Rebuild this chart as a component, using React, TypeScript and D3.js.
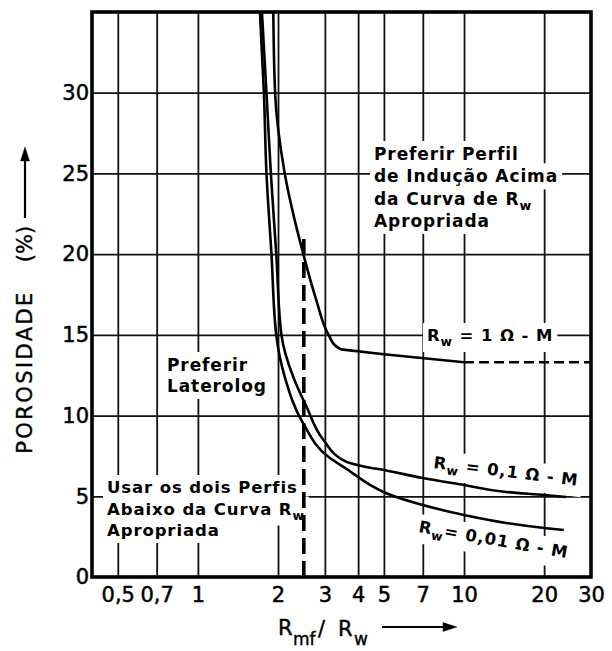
import React, { useEffect, useRef } from 'react'
import * as d3 from 'd3'

const W = 612
const H = 651

// axis ticks
const xTickValues = [0.5, 0.7, 1, 2, 3, 4, 5, 7, 10, 20, 30]
const xTickLabels = ['0,5', '0,7', '1', '2', '3', '4', '5', '7', '10', '20', '30']
const xGridValues = [0.5, 0.7, 1, 2, 3, 4, 5, 7, 10, 20]
const yTickValues = [0, 5, 10, 15, 20, 25, 30]
const yGridValues = [5, 10, 15, 20, 25, 30]

// curves, [Rmf/Rw, porosidade %]
const rw001: [number, number][] = [
  [1.71, 35], [1.77, 30], [1.81, 25], [1.89, 20], [1.97, 15], [2.12, 12.4],
  [2.49, 9.5], [3.09, 7.45], [3.6, 6.72], [4.5, 5.65], [5, 5.25], [7, 4.46],
  [10, 3.84], [14.4, 3.35], [20, 3.04], [23.7, 2.91],
]
const rw01: [number, number][] = [
  [1.74, 35], [1.81, 30], [1.88, 25], [1.97, 20], [2.06, 15], [2.28, 12.4],
  [2.56, 10.55], [2.96, 8.5], [3.6, 7.15], [4.2, 6.85], [5.1, 6.6], [7, 6.13],
  [10, 5.7], [14.4, 5.27], [20, 5.08], [24.2, 4.96],
]
const rw1Steep: [number, number][] = [
  [1.92, 35], [1.95, 30], [2.12, 25], [2.49, 20], [2.78, 17.2], [3.12, 14.9], [3.3, 14.3], [3.45, 14.1],
]
const rw1Flat: [number, number][] = [[3.45, 14.1], [5, 13.8], [10, 13.3]]
const rw1Dashed: [number, number][] = [[10, 13.3], [30, 13.3]]
const cutoffLine: [number, number][] = [[2.5, 0], [2.5, 21.2]]

type Seg = { t: string, sub?: boolean }

export default function App() {
  const ref = useRef<SVGSVGElement>(null)

  useEffect(() => {
    const svg = d3.select(ref.current)
    svg.selectAll('*').remove()

    const x = d3.scaleLog().domain([0.4, 30]).range([92, 591])
    const y = d3.scaleLinear().domain([0, 35]).range([577, 12])
    const top = y(35)
    const bottom = y(0)
    const font = 'DejaVu Sans, sans-serif'

    svg.append('rect').attr('width', W).attr('height', H).attr('fill', 'white')

    // grid
    svg.append('g')
      .attr('transform', `translate(0, ${bottom})`)
      .call(d3.axisBottom(x).tickValues(xGridValues).tickSize(-(bottom - top)).tickFormat(() => ''))
      .call(g => g.select('.domain').remove())
      .selectAll('line').attr('stroke', '#111').attr('stroke-width', 1.8)
    svg.append('g')
      .attr('transform', `translate(${x(0.4)}, 0)`)
      .call(d3.axisLeft(y).tickValues(yGridValues).tickSize(-(x(30) - x(0.4))).tickFormat(() => ''))
      .call(g => g.select('.domain').remove())
      .selectAll('line').attr('stroke', '#111').attr('stroke-width', 1.8)

    const bg = svg.append('g')
    const curves = svg.append('g').attr('fill', 'none').attr('stroke', '#000')
    const txt = svg.append('g').attr('fill', '#000')
      .attr('font-family', font).attr('font-weight', 'bold')

    // tick labels
    const xAxis = svg.append('g')
      .attr('transform', `translate(0, ${bottom})`)
      .call(d3.axisBottom(x).tickValues(xTickValues).tickSize(0).tickPadding(10)
        .tickFormat((d, i) => xTickLabels[i]))
    xAxis.select('.domain').remove()
    xAxis.selectAll('text').attr('font-size', 21).attr('font-family', font)
      .attr('fill', '#000').attr('stroke', '#000').attr('stroke-width', 0.5)

    const yAxis = svg.append('g')
      .attr('transform', `translate(${x(0.4)}, 0)`)
      .call(d3.axisLeft(y).tickValues(yTickValues).tickSize(0).tickPadding(3))
    yAxis.select('.domain').remove()
    yAxis.selectAll('text').attr('font-size', 21).attr('font-family', font)
      .attr('fill', '#000').attr('stroke', '#000').attr('stroke-width', 0.5)

    // curves (interpolated along porosity, which falls steadily on every curve)
    const smooth = d3.line<[number, number]>().x(d => x(d[0])).y(d => y(d[1]))
      .curve(d3.curveMonotoneY)
    const bySmooth = (pts: [number, number][]) => smooth(pts.slice().reverse())
    const straight = d3.line<[number, number]>().x(d => x(d[0])).y(d => y(d[1]))

    curves.append('path').attr('d', bySmooth(rw001)).attr('stroke-width', 2.6)
    curves.append('path').attr('d', bySmooth(rw01)).attr('stroke-width', 2.6)
    curves.append('path').attr('d', bySmooth(rw1Steep)).attr('stroke-width', 2.6)
    curves.append('path').attr('d', bySmooth(rw1Flat)).attr('stroke-width', 2.6)
    curves.append('path').attr('d', straight(rw1Dashed)).attr('stroke-width', 2.6)
      .attr('stroke-dasharray', '10,5')
    curves.append('path').attr('d', straight(cutoffLine)).attr('stroke-width', 3.6)
      .attr('stroke-dasharray', '16,7')

    // labels with white patches behind them
    const addLabel = (x0: number, y0: number, lines: Seg[][], size: number, lh: number, rot = 0) => {
      const tr = `translate(${x0}, ${y0}) rotate(${rot})`
      const gb = bg.append('g').attr('transform', tr)
      const gt = txt.append('g').attr('transform', tr)
      lines.forEach((segs, i) => {
        const t = gt.append('text').attr('x', 0).attr('y', i * lh)
          .attr('font-size', size).attr('letter-spacing', 0.9)
        let shift = 0
        segs.forEach(s => {
          const ts = t.append('tspan').text(s.t)
          const want = s.sub ? 5 : 0
          if (want !== shift) ts.attr('dy', want - shift)
          shift = want
          if (s.sub) ts.attr('font-size', size * 0.75)
        })
        const b = (t.node() as SVGTextElement).getBBox()
        gb.append('rect')
          .attr('x', b.x - 4).attr('y', b.y - 3)
          .attr('width', b.width + 8).attr('height', b.height + 6)
          .attr('fill', 'white')
      })
    }

    addLabel(374, 160, [
      [{ t: 'Preferir Perfil' }],
      [{ t: 'de Indução Acima' }],
      [{ t: 'da Curva de R' }, { t: 'w', sub: true }],
      [{ t: 'Apropriada' }],
    ], 17, 22.3)
    addLabel(167, 371, [
      [{ t: 'Preferir' }],
      [{ t: 'Laterolog' }],
    ], 17, 21)
    addLabel(107, 493, [
      [{ t: 'Usar os dois Perfis' }],
      [{ t: 'Abaixo da Curva R' }, { t: 'w', sub: true }],
      [{ t: 'Apropriada' }],
    ], 16.5, 21.5)
    addLabel(427, 341, [[{ t: 'R' }, { t: 'w', sub: true }, { t: ' = 1 Ω - M' }]], 16.5, 20)
    addLabel(433, 468, [[{ t: 'R' }, { t: 'w', sub: true }, { t: ' = 0,1 Ω - M' }]], 16.5, 20, 7)
    addLabel(418, 532, [[{ t: 'R' }, { t: 'w', sub: true }, { t: '= 0,01 Ω - M' }]], 16.5, 20, 10)

    // axis titles
    const titles = svg.append('g').attr('fill', '#000').attr('font-family', font)
      .attr('stroke', '#000').attr('stroke-width', 0.4)
    titles.append('text')
      .attr('transform', 'translate(25, 372) rotate(-90)')
      .attr('text-anchor', 'middle').attr('dominant-baseline', 'central')
      .attr('font-size', 21).attr('letter-spacing', 2.4).text('POROSIDADE')
    titles.append('text')
      .attr('transform', 'translate(25, 244) rotate(-90)')
      .attr('text-anchor', 'middle').attr('dominant-baseline', 'central')
      .attr('font-size', 21).text('(%)')
    titles.append('line').attr('x1', 25).attr('x2', 25).attr('y1', 218).attr('y2', 158)
      .attr('stroke-width', 2.2)
    titles.append('path').attr('d', 'M25,147 L20.5,161 L29.5,161 Z')

    titles.append('text').attr('x', 278).attr('y', 635).attr('font-size', 21).text('R')
    titles.append('text').attr('x', 293).attr('y', 645).attr('font-size', 17).text('mf')
    titles.append('text').attr('x', 318).attr('y', 636).attr('font-size', 21).text('/')
    titles.append('text').attr('x', 338).attr('y', 636).attr('font-size', 21).text('R')
    titles.append('text').attr('x', 354).attr('y', 645).attr('font-size', 17).text('w')
    titles.append('line').attr('x1', 382).attr('x2', 446).attr('y1', 627).attr('y2', 627)
      .attr('stroke-width', 2.2)
    titles.append('path').attr('d', 'M457,627 L443,622.5 L443,631.5 Z')

    // frame
    svg.append('rect')
      .attr('x', x(0.4)).attr('y', top)
      .attr('width', x(30) - x(0.4)).attr('height', bottom - top)
      .attr('fill', 'none').attr('stroke', '#000').attr('stroke-width', 3.6)
  }, [])

  return (
    <svg ref={ref} width={W} height={H}
      style={{ position: 'absolute', left: 0, top: 0, background: 'white' }} />
  )
}
